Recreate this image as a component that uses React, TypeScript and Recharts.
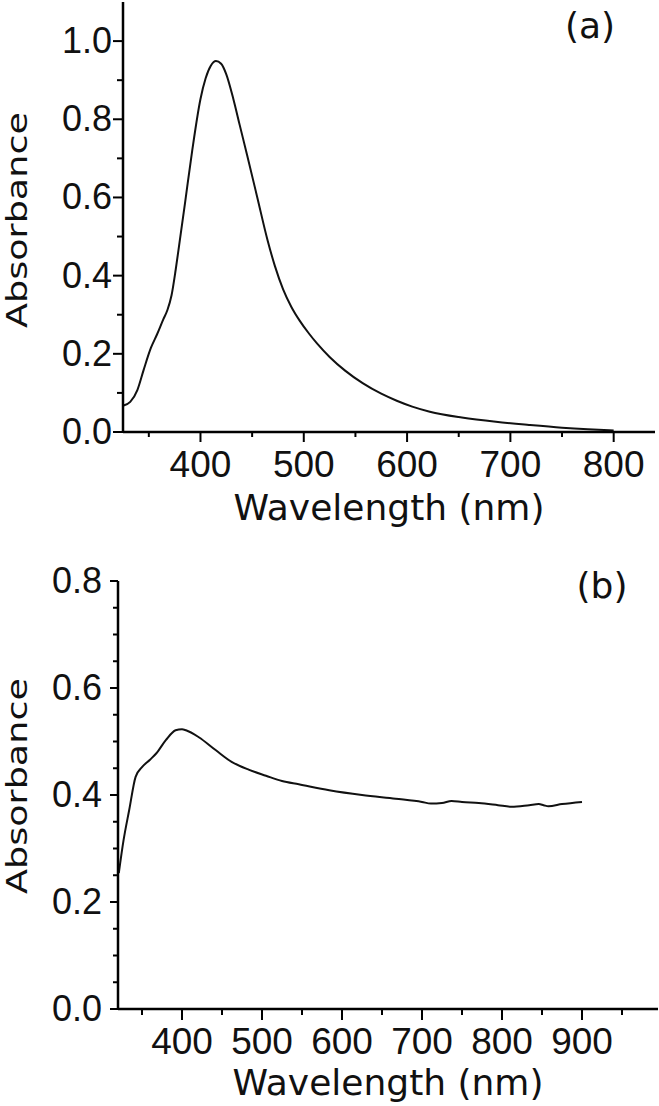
import { LineChart, Line, XAxis, YAxis } from 'recharts';

// panel (a): wavelength (nm) and absorbance
const wavelengthA = [
    325, 332, 339, 345, 352, 358, 364, 368, 372, 376, 380, 385, 392, 400, 405, 410, 415, 420, 425,
    432, 438, 445, 455, 465, 472, 480, 488, 496, 505, 513, 525, 540, 557, 575, 590, 605, 622,
    653, 686, 718, 750, 775, 800
];
const absorbanceA = [
    0.067, 0.077, 0.108, 0.159, 0.215, 0.25, 0.288, 0.312, 0.35, 0.415, 0.49, 0.585, 0.72, 0.852,
    0.905, 0.937, 0.949, 0.942, 0.915, 0.85, 0.785, 0.71, 0.6, 0.49, 0.425, 0.365, 0.32, 0.285,
    0.252, 0.226, 0.192, 0.157, 0.125, 0.098, 0.08, 0.065, 0.052, 0.037, 0.026, 0.018, 0.011,
    0.007, 0.004
];

// panel (b)
const wavelengthB = [
    321, 327, 334, 342, 350, 360, 368, 380, 392, 400, 405, 421, 442, 462, 484, 505, 525, 546,
    584, 625, 667, 700, 711, 725, 737, 750, 771, 795, 812, 834, 846, 852, 858, 875, 900
];
const absorbanceB = [
    0.254, 0.316, 0.372, 0.434, 0.452, 0.466, 0.478, 0.503, 0.521, 0.523, 0.521, 0.508, 0.484,
    0.462, 0.447, 0.436, 0.426, 0.42, 0.409, 0.4, 0.393, 0.387, 0.384, 0.385, 0.389, 0.387,
    0.385, 0.381, 0.378, 0.381, 0.383, 0.381, 0.379, 0.383, 0.387
];

const xMajorA = [400, 500, 600, 700, 800];
const xMinorA = [350, 450, 550, 650, 750];
const yMajorA = [0, 0.2, 0.4, 0.6, 0.8, 1.0];
const yMinorA = [0.1, 0.3, 0.5, 0.7, 0.9];

const xMajorB = [400, 500, 600, 700, 800, 900];
const xMinorB = [350, 450, 550, 650, 750, 850, 950];
const yMajorB = [0, 0.2, 0.4, 0.6, 0.8];
const yMinorB = [0.05, 0.1, 0.15, 0.25, 0.3, 0.35, 0.45, 0.5, 0.55, 0.65, 0.7, 0.75];

const dataA = wavelengthA.map((wl, i) => ({ wl, abs: absorbanceA[i] }));
const dataB = wavelengthB.map((wl, i) => ({ wl, abs: absorbanceB[i] }));

const tickFont = '"Liberation Sans", Arial, sans-serif';
const titleFont = '"DejaVu Sans", Verdana, sans-serif';

const isMajor = (v: number, majors: number[]) => majors.some(m => Math.abs(m - v) < 1e-6);

const makeXTick = (majors: number[], majorLen: number, minorLen: number) => (props: any) => {
    const { x, y, payload } = props;
    const major = isMajor(payload.value, majors);
    return (
        <g>
            <line x1={x} x2={x} y1={y} y2={y + (major ? majorLen : minorLen)} stroke="#000" strokeWidth={2} />
            {major && (
                <text x={x} y={y + 45} textAnchor="middle" fontFamily={tickFont} fontSize={37} fill="#111">
                    {payload.value}
                </text>
            )}
        </g>
    );
};

const makeYTick = (majors: number[], majorLen: number, minorLen: number, gap: number) => (props: any) => {
    const { x, y, payload } = props;
    const major = isMajor(payload.value, majors);
    return (
        <g>
            <line x1={x} x2={x - (major ? majorLen : minorLen)} y1={y} y2={y} stroke="#000" strokeWidth={2} />
            {major && (
                <text x={x - gap} y={y + 12} textAnchor="end" fontFamily={tickFont} fontSize={36} fill="#111">
                    {payload.value.toFixed(1)}
                </text>
            )}
        </g>
    );
};

const xTitle = (offset: number) => (props: any) => {
    const { viewBox } = props;
    return (
        <text x={viewBox.x + viewBox.width / 2} y={viewBox.y + offset} textAnchor="middle"
            fontFamily={titleFont} fontSize={36} fill="#111">
            Wavelength (nm)
        </text>
    );
};

const yTitle = (cy: number) => () => (
    <text x={27} y={cy} textAnchor="middle" transform={`rotate(-90, 27, ${cy})`}
        fontFamily={titleFont} fontSize={29} textLength={216} lengthAdjust="spacingAndGlyphs" fill="#111">
        Absorbance
    </text>
);

export default function App() {
    return (
        <div style={{ position: 'absolute', left: 0, top: 0, width: 659, height: 1106, background: '#fff' }}>
            <div style={{ position: 'absolute', left: 0, top: 0 }}>
                <LineChart width={659} height={550} data={dataA} margin={{ top: 2, right: 4, left: 0, bottom: 0 }}>
                    <XAxis type="number" dataKey="wl" domain={[325, 840]} ticks={[...xMinorA, ...xMajorA].sort((a, b) => a - b)}
                        interval={0} height={118} tickSize={0} tickMargin={0} tickLine={false}
                        axisLine={{ stroke: '#000', strokeWidth: 2.5 }}
                        tick={makeXTick(xMajorA, 10, 5)} label={{ content: xTitle(88) }} />
                    <YAxis type="number" domain={[0, 1.1]} ticks={[...yMinorA, ...yMajorA].sort((a, b) => a - b)}
                        interval={0} width={123} tickSize={0} tickMargin={0} tickLine={false}
                        axisLine={{ stroke: '#000', strokeWidth: 2.5 }}
                        tick={makeYTick(yMajorA, 10, 6, 11)} label={{ content: yTitle(220) }} />
                    <Line type="monotone" dataKey="abs" stroke="#111" strokeWidth={2} dot={false}
                        activeDot={false} isAnimationActive={false} />
                </LineChart>
            </div>
            <div style={{ position: 'absolute', left: 0, top: 560 }}>
                <LineChart width={659} height={546} data={dataB} margin={{ top: 21, right: 1, left: 0, bottom: 0 }}>
                    <XAxis type="number" dataKey="wl" domain={[320, 995]} ticks={[...xMinorB, ...xMajorB].sort((a, b) => a - b)}
                        interval={0} height={97} tickSize={0} tickMargin={0} tickLine={false}
                        axisLine={{ stroke: '#000', strokeWidth: 2.5 }}
                        tick={makeXTick(xMajorB, 11, 6)} label={{ content: xTitle(86) }} />
                    <YAxis type="number" domain={[0, 0.8]} ticks={[...yMinorB, ...yMajorB].sort((a, b) => a - b)}
                        interval={0} width={118} tickSize={0} tickMargin={0} tickLine={false}
                        axisLine={{ stroke: '#000', strokeWidth: 2.5 }}
                        tick={makeYTick(yMajorB, 8, 5, 16)} label={{ content: yTitle(226) }} />
                    <Line type="monotone" dataKey="abs" stroke="#111" strokeWidth={2} dot={false}
                        activeDot={false} isAnimationActive={false} />
                </LineChart>
            </div>
            <svg width={659} height={1106} style={{ position: 'absolute', left: 0, top: 0, pointerEvents: 'none' }}>
                <text x={590} y={38} textAnchor="middle" fontFamily={titleFont} fontSize={36} fill="#111">(a)</text>
                <text x={602} y={598} textAnchor="middle" fontFamily={titleFont} fontSize={36} fill="#111">(b)</text>
            </svg>
        </div>
    );
}
